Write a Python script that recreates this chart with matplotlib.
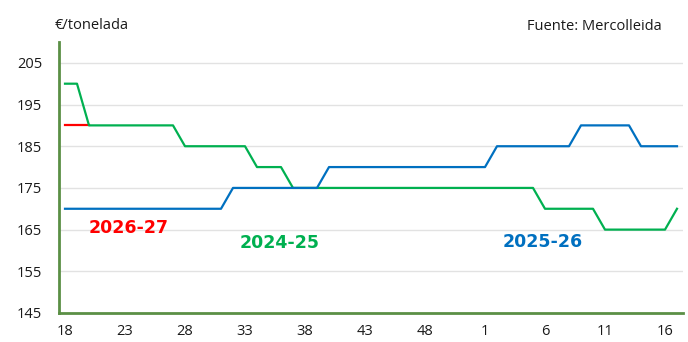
import matplotlib
matplotlib.use("Agg")
import matplotlib.pyplot as plt

# Marketing-year weeks (week 18 through week 17 of the following year)
weeks = [18, 19, 20, 21, 22, 23, 24, 25, 26, 27, 28, 29, 30, 31, 32, 33, 34, 35,
         36, 37, 38, 39, 40, 41, 42, 43, 44, 45, 46, 47, 48, 49, 50, 51, 52,
         1, 2, 3, 4, 5, 6, 7, 8, 9, 10, 11, 12, 13, 14, 15, 16, 17]

# Prices in €/tonelada
price_2024_25 = [200, 200,
                 190, 190, 190, 190, 190, 190, 190, 190,
                 185, 185, 185, 185, 185, 185,
                 180, 180, 180,
                 175, 175, 175, 175, 175, 175, 175, 175, 175, 175, 175,
                 175, 175, 175, 175, 175, 175, 175, 175, 175, 175,
                 170, 170, 170, 170, 170,
                 165, 165, 165, 165, 165, 165,
                 170]
price_2025_26 = [170, 170, 170, 170, 170, 170, 170, 170, 170, 170, 170, 170, 170, 170,
                 175, 175, 175, 175, 175, 175, 175, 175,
                 180, 180, 180, 180, 180, 180, 180, 180, 180, 180, 180, 180, 180, 180,
                 185, 185, 185, 185, 185, 185, 185,
                 190, 190, 190, 190, 190,
                 185, 185, 185, 185]
price_2026_27 = [190, 190, 190]

season_labels = ["2026-27", "2024-25", "2025-26"]
y_ticks = [145, 155, 165, 175, 185, 195, 205]

GREEN = "#00b050"
BLUE = "#0070c0"
RED = "#ff0000"
AXIS_GREEN = "#5b8f45"

plt.rcParams["font.family"] = ["Open Sans", "DejaVu Sans"]

fig = plt.figure(figsize=(6.88, 3.42), dpi=100)
ax = fig.add_axes([59 / 688, 1 - 313 / 342, (683 - 59) / 688, (313 - 42) / 342])

x_all = list(range(len(weeks)))
ax.plot(x_all[:len(price_2026_27)], price_2026_27, color=RED, lw=1.6, zorder=3)
ax.plot(x_all, price_2024_25, color=GREEN, lw=1.6, zorder=4)
ax.plot(x_all, price_2025_26, color=BLUE, lw=1.6, zorder=5)

ax.set_xlim(-0.5, len(weeks) - 0.5)
ax.set_ylim(145, 210)

tick_idx = list(range(0, len(weeks), 5))
ax.set_xticks(tick_idx)
ax.set_xticklabels([str(weeks[i]) for i in tick_idx])
ax.set_yticks(y_ticks)
ax.set_yticklabels([str(v) for v in y_ticks])
ax.tick_params(axis="both", length=0, labelsize=10.5, colors="#1a1a1a")
ax.tick_params(axis="y", pad=12)
ax.tick_params(axis="x", pad=8)

for v in y_ticks[1:]:
    ax.axhline(v, color="#e2e2e2", lw=1.0, zorder=1)

for side in ("top", "right"):
    ax.spines[side].set_visible(False)
for side in ("left", "bottom"):
    ax.spines[side].set_color(AXIS_GREEN)
    ax.spines[side].set_linewidth(2.0)

# Season labels
ax.text(5.33, 165.3, season_labels[0], color=RED, fontsize=12.5, fontweight="bold",
        family="DejaVu Sans", ha="center", va="center")
ax.text(17.9, 161.7, season_labels[1], color=GREEN, fontsize=12.5, fontweight="bold",
        family="DejaVu Sans", ha="center", va="center")
ax.text(39.8, 162.0, season_labels[2], color=BLUE, fontsize=12.5, fontweight="bold",
        family="DejaVu Sans", ha="center", va="center")

fig.text(55 / 688, 1 - 29 / 342, "€/tonelada", fontsize=10.5, color="#1a1a1a",
         ha="left", va="baseline")
fig.text(662 / 688, 1 - 30 / 342, "Fuente: Mercolleida", fontsize=10.5, color="#1a1a1a",
         ha="right", va="baseline")

fig.savefig("out.png", dpi=100)
